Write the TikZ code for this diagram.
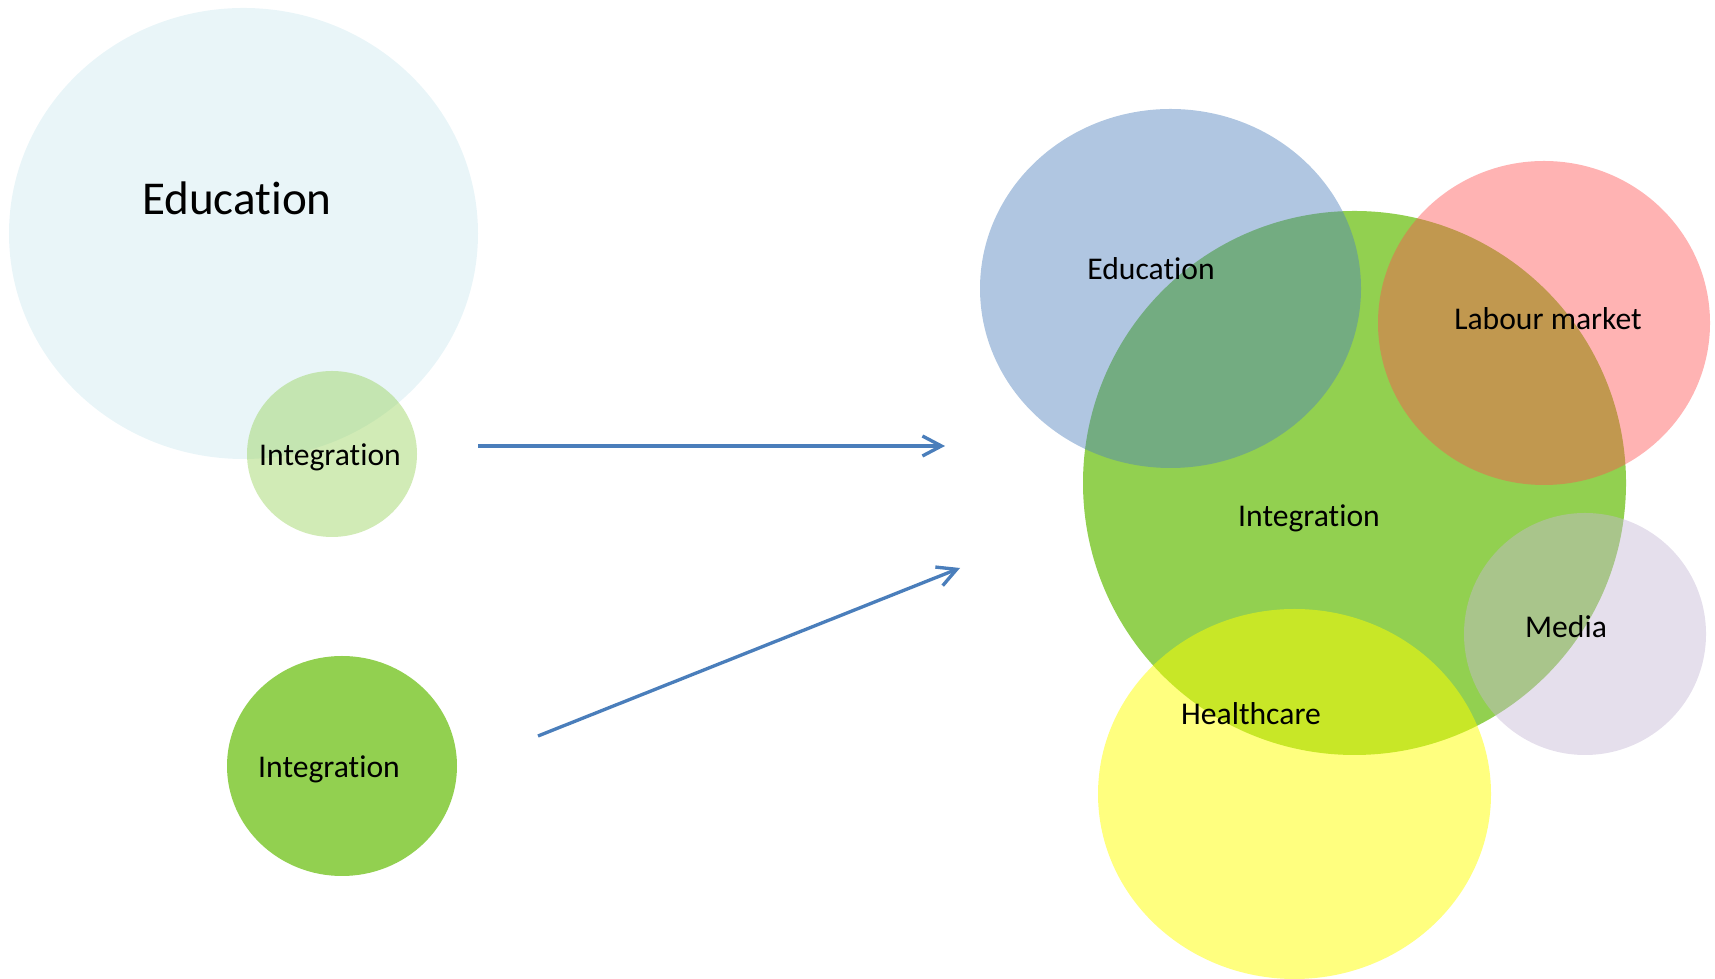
\documentclass[tikz,border=0pt]{standalone}
\usepackage{fontspec}
\setmainfont{Carlito}[RawFeature={-liga;-clig;-dlig;-calt}]
\usetikzlibrary{arrows.meta}
\definecolor{igreen}{HTML}{92D050}
\definecolor{eaqua}{HTML}{4BACC6}
\definecolor{eblue}{HTML}{4F81BD}
\definecolor{lred}{HTML}{FF4F4F}
\definecolor{mlilac}{HTML}{C5B8D5}
\definecolor{hyellow}{HTML}{FFFF00}
\definecolor{arrblue}{HTML}{4A7EBB}
\begin{document}
\begin{tikzpicture}[lbl/.style={font=\fontsize{9}{11}\selectfont},
  arr/.style={draw=arrblue, line width=0.95pt, -{Straight Barb[length=1.9mm,width=2mm]}}]
	\useasboundingbox (0,0) rectangle (17.15,9.79);
	% before
	\fill[eaqua, opacity=0.12] (2.435,7.455) ellipse (2.345 and 2.255);
	\fill[igreen, opacity=0.42] (3.32,5.25) ellipse (0.85 and 0.83);
	\fill[igreen] (3.42,2.13) ellipse (1.15 and 1.10);
	\node[font=\fontsize{13.4}{16}\selectfont] (eduL) at (2.37,7.81){Education};
	\node[lbl] (intS) at (3.30,5.22){Integration};
	\node[lbl] (intL) at (3.29,2.10){Integration};
	% after
	\fill[igreen] (13.545,4.96) ellipse (2.715 and 2.72);
	\fill[eblue, opacity=0.45] (11.705,6.905) ellipse (1.905 and 1.795);
	\fill[lred, opacity=0.43] (15.44,6.56) ellipse (1.66 and 1.62);
	\fill[mlilac, opacity=0.45] (15.85,3.45) ellipse (1.21 and 1.21);
	\fill[hyellow, opacity=0.5] (12.945,1.85) ellipse (1.965 and 1.85);
	\node[lbl] (eduR) at (11.51,7.10){Education};
	\node[lbl] (lab) at (15.48,6.60){Labour market};
	\node[lbl] (intR) at (13.09,4.61){Integration};
	\node[lbl] (med) at (15.66,3.52){Media};
	\node[lbl] (hlth) at (12.51,2.65){Healthcare};
	% arrows
	\coordinate (a1s) at (4.78,5.33);\coordinate (a1e) at (9.45,5.33);
	\coordinate (a2s) at (5.38,2.43);\coordinate (a2e) at (9.60,4.11);
	\draw[arr] (a1s)--(a1e);
	\draw[arr] (a2s)--(a2e);
\end{tikzpicture}
\end{document}
